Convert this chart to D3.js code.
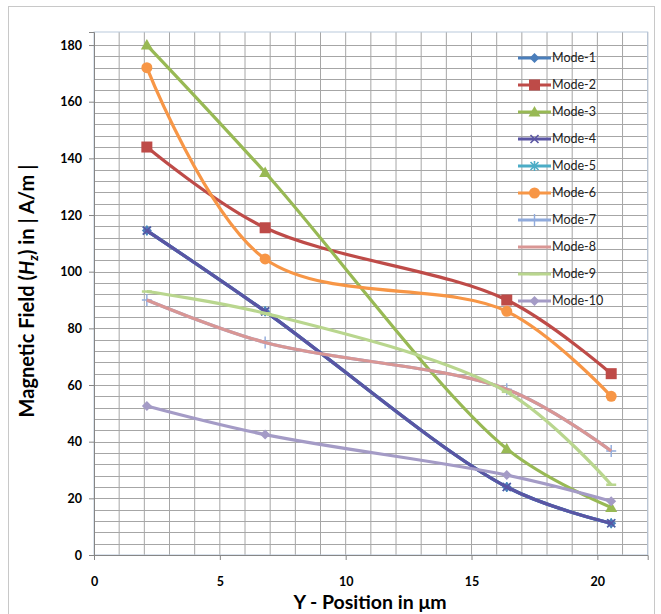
<!DOCTYPE html>
<html><head><meta charset="utf-8">
<script src="https://cdn.jsdelivr.net/npm/d3@7"></script>
<style>body{margin:0;background:#fff}svg{display:block}</style>
</head><body>
<script>
const xPositions = [2.1, 6.8, 16.4, 20.55];
const seriesNames = ["Mode-1","Mode-2","Mode-3","Mode-4","Mode-5","Mode-6","Mode-7","Mode-8","Mode-9","Mode-10"];
const mode1 = [114.5, 86, 24, 11.2];
const mode2 = [144, 115.5, 90, 64];
const mode3 = [180, 135, 37.5, 16.8];
const mode4 = [114.5, 86, 24, 11.2];
const mode5 = [114.5, 86, 24, 11.2];
const mode6 = [172, 104.5, 86, 56];
const mode7 = [90, 75, 58.5, 36.7];
const mode8 = [90, 75, 58.5, 36.7];
const mode9 = [93, 85.3, 57.6, 24.8];
const mode10 = [52.6, 42.5, 28.2, 19];
const xTicks = [0, 5, 10, 15, 20];
const yTicks = [0, 20, 40, 60, 80, 100, 120, 140, 160, 180];

const values = [mode1, mode2, mode3, mode4, mode5, mode6, mode7, mode8, mode9, mode10];
const colors = ["#4A7EBB","#BE4B48","#98B954","#5A55A3","#4BACC6","#F79646","#8FAADC","#D99694","#B9D68E","#A49BC6"];
const markers = ["diamond","square","triangle","x","star","circle","plus","none","dash","diamond"];
const drawOrder = [4,0,3,1,2,5,6,7,8,9];

const W = 661, H = 614;
const svg = d3.select("body").append("svg").attr("width", W).attr("height", H);

// outer chart border
svg.append("rect").attr("x", 8.5).attr("y", 6.5).attr("width", 646).attr("height", 640)
  .attr("fill", "#fff").attr("stroke", "#c8c8c8");

const x = d3.scaleLinear().domain([0, 22]).range([94, 647.7]);
const y = d3.scaleLinear().domain([0, 184.6]).range([555, 32]);

const grid = svg.append("g");
d3.range(1, 23).forEach(v => grid.append("line")
  .attr("x1", x(v)).attr("x2", x(v)).attr("y1", y(0)).attr("y2", y(184.6))
  .attr("stroke", "#a6a6a6").attr("stroke-width", 1));
d3.range(4, 184, 4).forEach(v => grid.append("line")
  .attr("x1", x(0)).attr("x2", x(22)).attr("y1", Math.round(y(v)) + 0.5).attr("y2", Math.round(y(v)) + 0.5)
  .attr("stroke", "#a6a6a6").attr("stroke-width", 1));
// plot border
svg.append("rect").attr("x", x(0)).attr("y", y(184.6)).attr("width", x(22) - x(0)).attr("height", y(0) - y(184.6))
  .attr("fill", "none").attr("stroke", "#b9c9dc");

// axes
const xAxis = svg.append("g").attr("transform", `translate(0,${y(0)})`)
  .call(d3.axisBottom(x).tickValues(xTicks).tickSize(5).tickFormat(d3.format("d")));
xAxis.select(".domain").attr("stroke", "#868686");
xAxis.selectAll(".tick line").attr("stroke", "#868686");
xAxis.selectAll("text").attr("dy", 0).attr("y", 31)
  .style("font-family", "Lato, 'Open Sans', sans-serif").style("font-weight", "bold").style("font-size", "12.5px").attr("fill", "#000");

const yAxis = svg.append("g").attr("transform", `translate(${x(0)},0)`)
  .call(d3.axisLeft(y).tickValues(yTicks).tickSize(5));
yAxis.select(".domain").attr("stroke", "#868686");
yAxis.selectAll(".tick line").attr("stroke", "#868686");
yAxis.selectAll("text").attr("x", -12)
  .style("font-family", "Lato, 'Open Sans', sans-serif").style("font-weight", "bold").style("font-size", "12.5px").attr("fill", "#000");

// lines
const line = d3.line().x((d, i) => x(xPositions[i])).y(d => y(d)).curve(d3.curveCatmullRom.alpha(0.5));

function drawMarker(g, type, cx, cy, color) {
  const s = g.append("g").attr("transform", `translate(${cx},${cy})`);
  if (type === "diamond") s.append("path").attr("d", "M0,-5L5,0L0,5L-5,0Z").attr("fill", color);
  else if (type === "square") s.append("rect").attr("x", -5.5).attr("y", -5.5).attr("width", 11).attr("height", 11).attr("fill", color);
  else if (type === "triangle") s.append("path").attr("d", "M0,-6L6,4.5L-6,4.5Z").attr("fill", color);
  else if (type === "circle") s.append("circle").attr("r", 5.5).attr("fill", color);
  else if (type === "x") s.append("path").attr("d", "M-4,-4L4,4M-4,4L4,-4").attr("stroke", color).attr("stroke-width", 1.6);
  else if (type === "star") s.append("path").attr("d", "M-4,-4L4,4M-4,4L4,-4M0,-5L0,5").attr("stroke", color).attr("stroke-width", 1.6);
  else if (type === "plus") s.append("path").attr("d", "M-5,0L5,0M0,-6L0,6").attr("stroke", color).attr("stroke-width", 1.4);
  else if (type === "dash") s.append("path").attr("d", "M-5,0L5,0").attr("stroke", color).attr("stroke-width", 2.5);
}

const plot = svg.append("g");
drawOrder.forEach(i => {
  const g = plot.append("g");
  g.append("path").datum(values[i]).attr("d", line).attr("fill", "none")
    .attr("stroke", colors[i]).attr("stroke-width", 3.2).attr("stroke-linejoin", "round");
  values[i].forEach((v, j) => drawMarker(g, markers[i], x(xPositions[j]), y(v), colors[i]));
});

// legend
const leg = svg.append("g");
seriesNames.forEach((name, i) => {
  const ly = 58 + i * 27;
  const g = leg.append("g");
  g.append("line").attr("x1", 518).attr("x2", 551).attr("y1", ly).attr("y2", ly)
    .attr("stroke", colors[i]).attr("stroke-width", 3);
  drawMarker(g, markers[i], 534.5, ly, colors[i]);
  g.append("text").attr("x", 552).attr("y", ly + 4).text(name)
    .style("font-family", "Lato, 'Open Sans', sans-serif").style("font-size", "12.5px").attr("fill", "#222");
});

// axis titles
svg.append("text").attr("x", 370).attr("y", 609).attr("text-anchor", "middle")
  .style("font-family", "Lato, 'Open Sans', sans-serif").style("font-weight", "bold").style("font-size", "19.5px")
  .text("Y - Position in μm");

const yt = svg.append("text").attr("transform", "translate(34,291) rotate(-90)").attr("text-anchor", "middle")
  .style("font-family", "Lato, 'Open Sans', sans-serif").style("font-weight", "bold").style("font-size", "20px");
yt.append("tspan").text("Magnetic Field (");
yt.append("tspan").style("font-style", "italic").text("H");
yt.append("tspan").attr("dy", 4).style("font-size", "13px").style("font-style", "italic").text("z");
yt.append("tspan").attr("dy", -4).text(") in | A/m |");
</script>
</body></html>
